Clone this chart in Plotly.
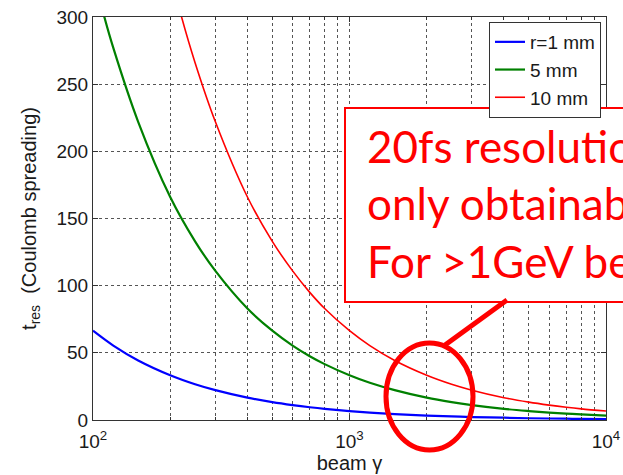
import plotly.graph_objects as go

# Beam Lorentz factor samples and Coulomb-spreading time resolution per beam radius
gamma_blue = [100, 120, 150, 200, 250, 300, 400, 500, 600, 700, 800, 1000, 1200,
              1500, 2000, 2500, 3000, 4000, 5000, 6000, 7000, 8000, 10000]
t_r1 = [66.5, 55.4, 44.3, 33.3, 26.6, 22.2, 16.6, 13.3, 11.1, 9.5, 8.3, 6.65, 5.5,
        4.4, 3.3, 2.7, 2.2, 1.7, 1.3, 1.1, 0.95, 0.83, 0.67]

gamma_green = [100, 110, 120, 150, 200, 250, 300, 400, 500, 600, 700, 800, 1000, 1200,
               1500, 2000, 2500, 3000, 4000, 5000, 6000, 7000, 8000, 10000]
t_r5 = [333, 302, 277, 222, 166, 133, 111, 83, 66.5, 55.4, 47.5, 41.6, 33.3, 27.7,
        22.2, 16.6, 13.3, 11.1, 8.3, 6.65, 5.5, 4.75, 4.2, 3.3]

gamma_red = [200, 220, 250, 300, 400, 500, 600, 700, 800, 1000, 1200, 1500, 2000,
             2500, 3000, 4000, 5000, 6000, 7000, 8000, 10000]
t_r10 = [333, 302, 266, 222, 166, 133, 111, 95, 83, 66.5, 55.4, 44.3, 33.3,
         26.6, 22.2, 16.6, 13.3, 11.1, 9.5, 8.3, 6.65]

series_names = ["r=1 mm", "5 mm", "10 mm"]
x_tickvals = [100, 1000, 10000]
x_ticktext = ["10<sup>2</sup>", "10<sup>3</sup>", "10<sup>4</sup>"]
y_tickvals = [0, 50, 100, 150, 200, 250, 300]
note_lines = ["20fs resolution", "only obtainable", "For &gt;1GeV beams"]

W, H = 623, 475
L, R, T, B = 93, 17, 17, 55
pw, ph = W - L - R, H - T - B


def px(xp):
    return (xp - L) / pw


def py(yp):
    return (H - B - yp) / ph


fig = go.Figure()
fig.add_trace(go.Scatter(x=gamma_blue, y=t_r1, name=series_names[0], mode="lines",
                         line=dict(color="#0000ff", width=2.2, shape="spline")))
fig.add_trace(go.Scatter(x=gamma_green, y=t_r5, name=series_names[1], mode="lines",
                         line=dict(color="#008000", width=2.2, shape="spline")))
fig.add_trace(go.Scatter(x=gamma_red, y=t_r10, name=series_names[2], mode="lines",
                         line=dict(color="#ff0000", width=1.6, shape="spline")))

axis_font = dict(family="Liberation Sans, Arial", size=19, color="#1a1a1a")
grid = dict(showgrid=True, gridcolor="#555", griddash="dot", gridwidth=1)

fig.update_xaxes(type="log", range=[2, 4], tickvals=x_tickvals, ticktext=x_ticktext,
                 ticks="inside", ticklen=5, tickcolor="#333", showline=True,
                 linecolor="#333", linewidth=1, mirror="allticks",
                 tickfont=axis_font, zeroline=False, automargin=True,
                 ticklabelstandoff=4,
                 minor=dict(dtick="D1", ticks="inside", ticklen=3, tickcolor="#333",
                            showgrid=True, gridcolor="#555", griddash="dot"),
                 title=dict(text="beam γ", font=dict(family="Liberation Sans, Arial",
                                                      size=20, color="#1a1a1a"),
                            standoff=2),
                 **grid)
fig.update_yaxes(range=[0, 300], tickvals=y_tickvals, ticks="inside", ticklen=5,
                 tickcolor="#333", showline=True, linecolor="#333", linewidth=1,
                 mirror="allticks", tickfont=axis_font, zeroline=False,
                 automargin=True,
                 title=dict(text="t<sub>res</sub>  (Coulomb spreading)",
                            font=dict(family="Liberation Sans, Arial", size=20,
                                      color="#1a1a1a"), standoff=14),
                 **grid)

# Callout box, pointer and highlight ellipse
fig.add_shape(type="rect", xref="paper", yref="paper",
              x0=px(345), x1=px(640), y0=py(302), y1=py(108),
              line=dict(color="#ff0000", width=2), fillcolor="white", layer="above")
fig.add_shape(type="line", xref="paper", yref="paper",
              x0=px(445), y0=py(345), x1=px(507), y1=py(300),
              line=dict(color="#ff0000", width=5), layer="above")
fig.add_shape(type="circle", xref="paper", yref="paper",
              x0=px(386), x1=px(473), y0=py(450), y1=py(343),
              line=dict(color="#ff0000", width=5), layer="above")

for i, (line_text, yc) in enumerate(zip(note_lines, [146, 203, 261])):
    fig.add_annotation(xref="paper", yref="paper", x=px(365), y=py(yc),
                       xanchor="left", yanchor="middle", showarrow=False,
                       text=line_text, align="left",
                       font=dict(family="Lato, Noto Sans", size=44, color="#ff0000"))

fig.update_layout(
    width=W, height=H,
    margin=dict(l=L, r=R, t=T, b=B, autoexpand=False),
    paper_bgcolor="white", plot_bgcolor="white",
    showlegend=True,
    legend=dict(x=px(601), y=py(22), xanchor="right", yanchor="top",
                bgcolor="white", bordercolor="#333", borderwidth=1,
                font=dict(family="Liberation Sans, Arial", size=19, color="#1a1a1a"),
                tracegroupgap=0),
)

fig.write_html("out.html")
